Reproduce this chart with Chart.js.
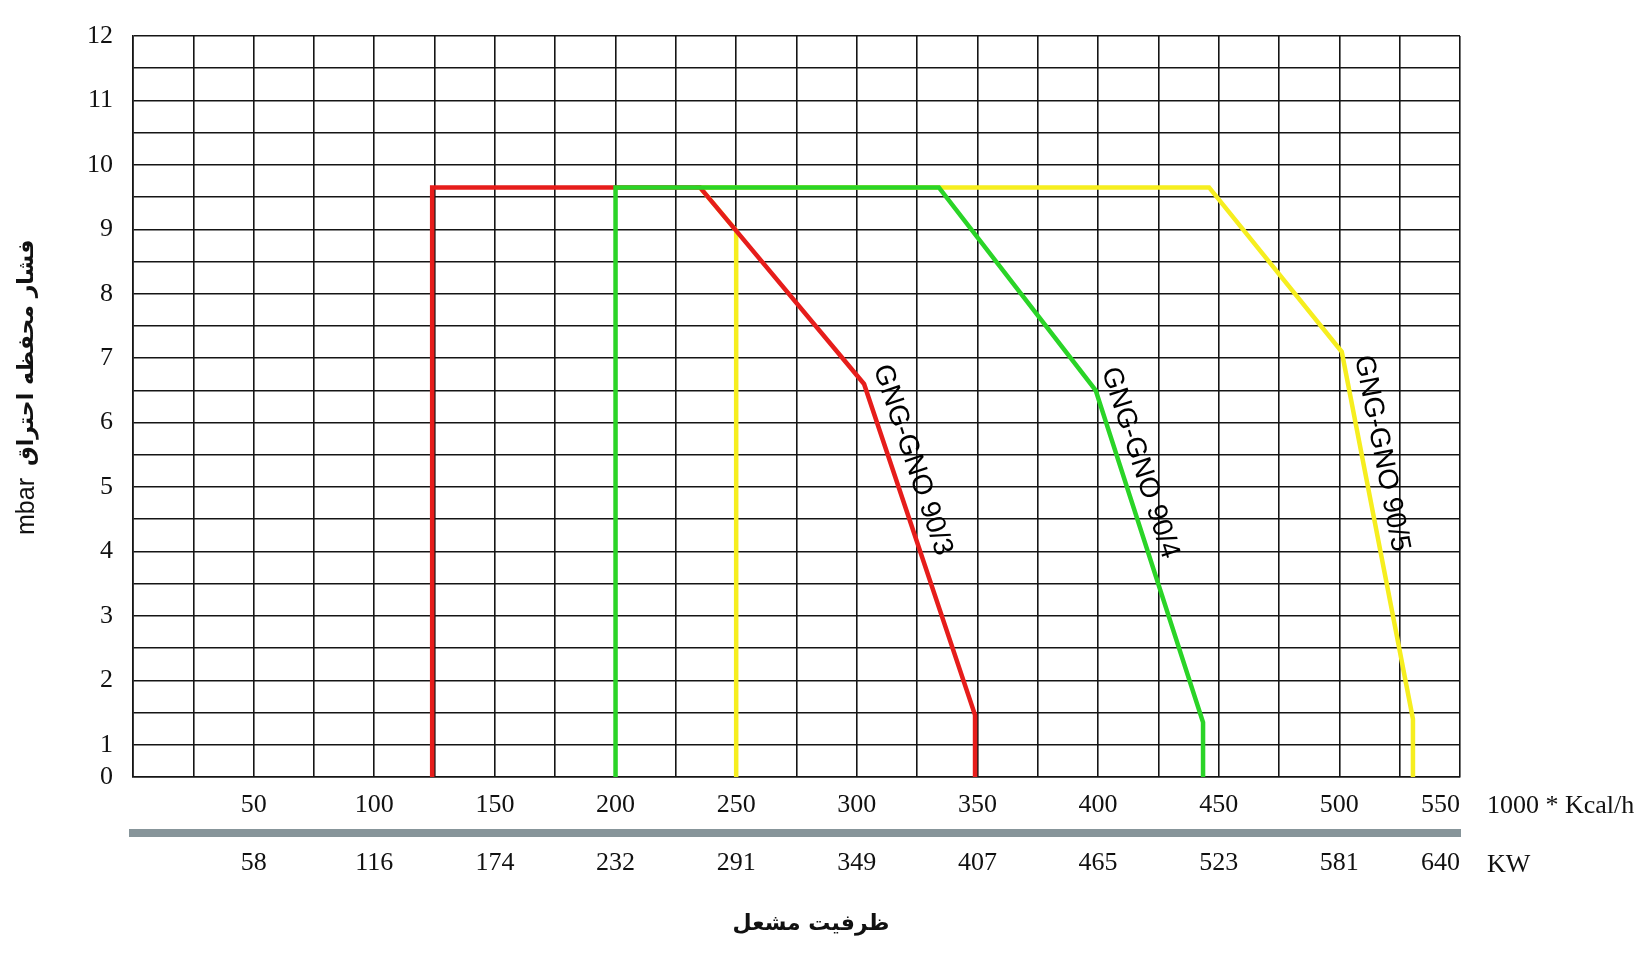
<!DOCTYPE html>
<html>
<head>
<meta charset="utf-8">
<title>GNG-GNO 90 burner range</title>
<script src="https://cdn.jsdelivr.net/npm/chart.js@4.4.1/dist/chart.umd.min.js"></script>
<style>
  html, body { margin: 0; padding: 0; background: #fff; }
  #wrap { width: 1642px; height: 958px; }
</style>
</head>
<body>
<div id="wrap"><canvas id="myChart"></canvas></div>
<script>
// capacity in 1000 kcal/h, pressure in mbar
const gno903X = [124, 124, 235, 303, 349, 349];
const gno903Y = [0, 9.65, 9.65, 6.6, 1.46, 0];

const gno904X = [200, 200, 334, 399, 443.5, 443.5];
const gno904Y = [0, 9.65, 9.65, 6.5, 1.35, 0];

const gno905X = [250, 250, 235, 446, 501, 530.5, 530.5];
const gno905Y = [0, 8.98, 9.65, 9.65, 7.1, 1.4, 0];

const seriesNames = ['GNG-GNO 90/3', 'GNG-GNO 90/4', 'GNG-GNO 90/5'];
const seriesColors = ['#e61d1b', '#2ad427', '#f6ee1f'];

// tick labels
const kcalTicks = [50, 100, 150, 200, 250, 300, 350, 400, 450, 500, 550];
const kwTicks = ['58', '116', '174', '232', '291', '349', '407', '465', '523', '581', '640'];
const yTicks = [0, 1, 1.5, 2, 2.5, 3, 3.5, 4, 4.5, 5, 5.5, 6, 6.5, 7, 7.5, 8, 8.5, 9, 9.5, 10, 10.5, 11, 11.5, 12];

const yTitleUnit = 'mbar';
const yTitleText = 'فشار محفظه احتراق';
const xTitleText = 'ظرفیت مشعل';
const kcalUnit = '1000 * Kcal/h';
const kwUnit = 'KW';

function pairs(xs, ys) {
  return xs.map((x, i) => ({ x: x, y: ys[i] }));
}

// the bottom cell of the chart runs from 0 to 1 but is only half as tall
class SquashedScale extends Chart.LinearScale {
  getPixelForValue(v) {
    return super.getPixelForValue(v < 1 ? 0.5 + v / 2 : v);
  }
  getValueForPixel(p) {
    const u = super.getValueForPixel(p);
    return u < 1 ? (u - 0.5) * 2 : u;
  }
}
SquashedScale.id = 'squashed';
SquashedScale.defaults = {};
Chart.register(SquashedScale);

const serif = '"Liberation Serif", "Times New Roman", serif';
const gridColor = '#151515';

const textPlugin = {
  id: 'extraText',
  afterDatasetsDraw(chart) {
    const ctx = chart.ctx;
    const xs = chart.scales.x;
    const ys = chart.scales.y;
    // [x values, y values, index of the knee the label sits on, shift along the line, gap]
    const sets = [
      [gno903X, gno903Y, 3, -12, -14],
      [gno904X, gno904Y, 3, -17, -12],
      [gno905X, gno905Y, 4, 8, -12]
    ];
    ctx.save();
    ctx.fillStyle = '#000';
    ctx.font = '28px "Liberation Sans", Arial, sans-serif';
    ctx.textAlign = 'left';
    ctx.textBaseline = 'alphabetic';
    sets.forEach((s, i) => {
      const k = s[2];
      const x1 = xs.getPixelForValue(s[0][k]), y1 = ys.getPixelForValue(s[1][k]);
      const x2 = xs.getPixelForValue(s[0][k + 1]), y2 = ys.getPixelForValue(s[1][k + 1]);
      const a = Math.atan2(y2 - y1, x2 - x1);
      ctx.save();
      ctx.translate(x1, y1);
      ctx.rotate(a);
      ctx.fillText(seriesNames[i], s[3], s[4]);
      ctx.restore();
    });
    ctx.restore();
  },
  afterDraw(chart) {
    const ctx = chart.ctx;
    const x = chart.scales.x;
    const x2 = chart.scales.x2;
    ctx.save();
    ctx.fillStyle = '#111';
    ctx.textBaseline = 'alphabetic';
    ctx.textAlign = 'left';
    ctx.font = '26px ' + serif;
    ctx.fillText(kcalUnit, 1487, x.top + 36);
    ctx.fillText(kwUnit, 1487, x2.top + 39);

    // x title
    ctx.textAlign = 'center';
    ctx.textBaseline = 'middle';
    ctx.font = 'bold 22px "DejaVu Sans", sans-serif';
    ctx.fillText(xTitleText, 811, 924);

    // y title, read bottom to top
    ctx.translate(27, 535);
    ctx.rotate(-Math.PI / 2);
    ctx.textAlign = 'left';
    ctx.font = '25px "Liberation Sans", Arial, sans-serif';
    ctx.fillText(yTitleUnit, 0, 0);
    const w = ctx.measureText(yTitleUnit).width;
    ctx.font = 'bold 22px "DejaVu Sans", sans-serif';
    ctx.fillText(yTitleText, w + 12, 0);
    ctx.restore();
  }
};

const ctx = document.getElementById('myChart').getContext('2d');
new Chart(ctx, {
  type: 'line',
  data: {
    datasets: [
      { label: seriesNames[1], data: pairs(gno904X, gno904Y), borderColor: seriesColors[1], order: 1 },
      { label: seriesNames[0], data: pairs(gno903X, gno903Y), borderColor: seriesColors[0], order: 2 },
      { label: seriesNames[2], data: pairs(gno905X, gno905Y), borderColor: seriesColors[2], order: 3 }
    ]
  },
  options: {
    responsive: true,
    maintainAspectRatio: false,
    animation: false,
    layout: { padding: { top: 36, right: 182, bottom: 75, left: 0 } },
    datasets: {
      line: { borderWidth: 4.5, pointRadius: 0, tension: 0, fill: false, borderCapStyle: 'butt' }
    },
    plugins: {
      legend: { display: false },
      tooltip: { enabled: false }
    },
    scales: {
      x: {
        type: 'linear',
        position: 'bottom',
        min: 0,
        max: 550,
        grid: { color: gridColor, lineWidth: 1.6, drawTicks: false },
        border: { color: gridColor, width: 1.6 },
        ticks: {
          stepSize: 25,
          autoSkip: false,
          maxRotation: 0,
          align: 'inner',
          padding: 13,
          color: '#111',
          font: { family: serif, size: 26 },
          callback: (v) => (kcalTicks.includes(v) ? String(v) : '')
        },
        afterFit: (s) => { s.height = 56; }
      },
      x2: {
        type: 'linear',
        position: 'bottom',
        min: 0,
        max: 550,
        grid: { display: false, drawTicks: false },
        border: { display: true, color: '#87959a', width: 8 },
        ticks: {
          stepSize: 25,
          autoSkip: false,
          maxRotation: 0,
          align: 'inner',
          padding: 15,
          color: '#111',
          font: { family: serif, size: 26 },
          callback: (v) => {
            const i = kcalTicks.indexOf(v);
            return i >= 0 ? kwTicks[i] : '';
          }
        },
        afterFit: (s) => { s.height = 50; }
      },
      y: {
        type: 'squashed',
        min: 0.5,
        max: 12,
        grid: { color: gridColor, lineWidth: 1.6, drawTicks: false },
        border: { color: gridColor, width: 1.6 },
        afterBuildTicks: (s) => { s.ticks = yTicks.map((v) => ({ value: v })); },
        ticks: {
          autoSkip: false,
          padding: 20,
          color: '#111',
          font: { family: serif, size: 26 },
          callback: (v) => (Number.isInteger(v) ? String(v) : '')
        },
        afterFit: (s) => { s.width = 133; }
      }
    }
  },
  plugins: [textPlugin]
});
</script>
</body>
</html>
